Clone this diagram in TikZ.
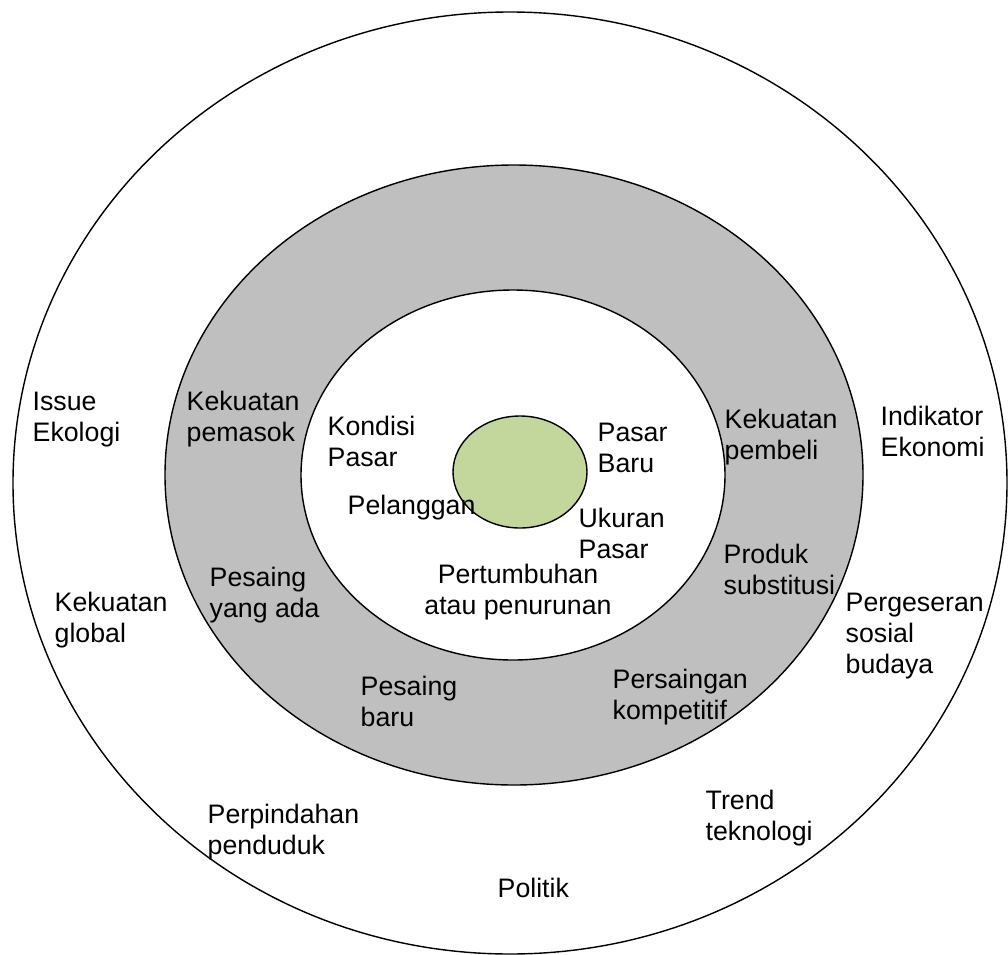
\documentclass[tikz,border=0pt]{standalone}
\usepackage{fontspec}
\setmainfont{Liberation Sans}
\usepackage{tikz}

\definecolor{ringgray}{HTML}{BFBFBF}
\definecolor{coregreen}{HTML}{C3D69B}

\begin{document}
\begin{tikzpicture}[x=0.025cm,y=-0.025cm,line width=1pt,
  txt/.style={font=\fontsize{19}{22}\selectfont,align=left,anchor=west,inner sep=0pt}]
\useasboundingbox (0,0) rectangle (1008,955);
% rings, from the outside in
\draw[fill=white] (510,483) ellipse [x radius=497,y radius=471];
\draw[fill=ringgray] (514,475) ellipse [x radius=349,y radius=310];
\draw[fill=white] (513,475) ellipse [x radius=212,y radius=185];
\draw[fill=coregreen] (520,472) ellipse [x radius=67,y radius=56];
% outer ring
\node[txt] (issue) at (32,420) {Issue\\Ekologi};
\node[txt] (global) at (54,620) {Kekuatan\\global};
\node[txt] (indikator) at (880,431) {Indikator\\Ekonomi};
\node[txt] (sosial) at (845,636) {Pergeseran\\sosial\\budaya};
\node[txt] (trend) at (705,818) {Trend\\teknologi};
\node[txt] (pindah) at (207,832) {Perpindahan\\penduduk};
\node[txt] (politik) at (497,888) {Politik};
% gray ring
\node[txt] (pemasok) at (186,419) {Kekuatan\\pemasok};
\node[txt] (pembeli) at (724,437) {Kekuatan\\pembeli};
\node[txt] (substitusi) at (723,569) {Produk\\substitusi};
\node[txt] (pesaingada) at (209,595) {Pesaing\\yang ada};
\node[txt] (pesaingbaru) at (360,701) {Pesaing\\baru};
\node[txt] (kompetitif) at (612,697) {Persaingan\\kompetitif};
% inner ring
\node[txt] (kondisi) at (327,441) {Kondisi\\Pasar};
\node[txt] (pasarbaru) at (597,448) {Pasar\\Baru};
\node[txt] (pelanggan) at (347,508) {Pelanggan};
\node[txt] (ukuran) at (578,533) {Ukuran\\Pasar};
\node[txt,align=center,anchor=center] (tumbuh) at (518,592) {Pertumbuhan\\atau penurunan};
\end{tikzpicture}
\end{document}
